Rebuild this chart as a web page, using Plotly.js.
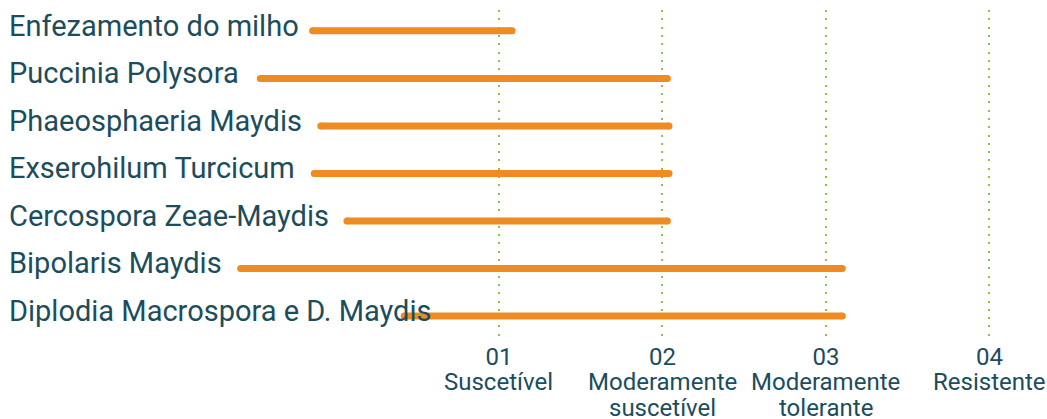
<!DOCTYPE html>
<html>
<head>
<meta charset="utf-8">
<script src="https://cdn.plot.ly/plotly-3.0.1.min.js"></script>
<style>
html,body{margin:0;padding:0;background:#fff;}
#chart{width:1047px;height:419px;}
</style>
</head>
<body>
<div id="chart"></div>
<script>
// Diseases (rows, top to bottom)
var diseases = [
  "Enfezamento do milho",
  "Puccinia Polysora",
  "Phaeosphaeria Maydis",
  "Exserohilum Turcicum",
  "Cercospora Zeae-Maydis",
  "Bipolaris Maydis",
  "Diplodia Macrospora e D. Maydis"
];
// Bar start (in axis units, bars start after the label) and end (tolerance level reached)
var barStart = [-0.14, -0.46, -0.09, -0.13, 0.07, -0.58, 0.42];
var barEnd   = [1.08, 2.03, 2.04, 2.04, 2.03, 3.10, 3.10];
// Tolerance scale
var levelValues = [1, 2, 3, 4];
var levelNumbers = ["01", "02", "03", "04"];
var levelNames = [["Suscetível"], ["Moderamente", "suscetível"], ["Moderamente", "tolerante"], ["Resistente"]];

var orange = "#EE8B22";
var teal = "#1B4D5C";
var green = "#8DC63F";
var fontFam = "Roboto, sans-serif";

var traces = diseases.map(function(d, i){
  return {
    type: "scatter",
    mode: "lines+markers",
    x: [barStart[i], barEnd[i]],
    y: [d, d],
    line: {color: orange, width: 7},
    marker: {color: orange, size: 7, line: {width: 0}},
    hoverinfo: "skip",
    showlegend: false
  };
});

var annotations = diseases.map(function(d){
  return {
    text: d,
    xref: "paper", yref: "y",
    x: 0, y: d,
    xanchor: "left", yanchor: "middle",
    xshift: 7, yshift: 5,
    showarrow: false,
    font: {family: fontFam, size: 29, color: teal}
  };
});

levelNames.forEach(function(lines, i){
  lines.forEach(function(line, k){
    annotations.push({
      text: line,
      xref: "x", yref: "paper",
      x: levelValues[i], y: 0,
      xanchor: "center", yanchor: "middle",
      yshift: -42 - 26 * k,
      showarrow: false,
      font: {family: fontFam, size: 24, color: teal}
    });
  });
});

var layout = {
  width: 1047, height: 419,
  margin: {l: 0, r: 0, t: 10, b: 79},
  paper_bgcolor: "#fff",
  plot_bgcolor: "#fff",
  showlegend: false,
  xaxis: {
    range: [-2.052, 4.352],
    tickmode: "array",
    tickvals: levelValues,
    ticktext: levelNumbers,
    showgrid: true,
    gridcolor: green,
    gridwidth: 2,
    griddash: "2px,6.3px",
    zeroline: false,
    showline: false,
    ticks: "",
    ticklabelstandoff: 0,
    tickfont: {family: fontFam, size: 24, color: teal}
  },
  yaxis: {
    type: "category",
    categoryorder: "array",
    categoryarray: diseases,
    autorange: "reversed",
    showticklabels: false,
    showgrid: false,
    zeroline: false,
    showline: false,
    ticks: ""
  },
  annotations: annotations
};

Plotly.newPlot("chart", traces, layout, {displayModeBar: false, staticPlot: true});
</script>
</body>
</html>
